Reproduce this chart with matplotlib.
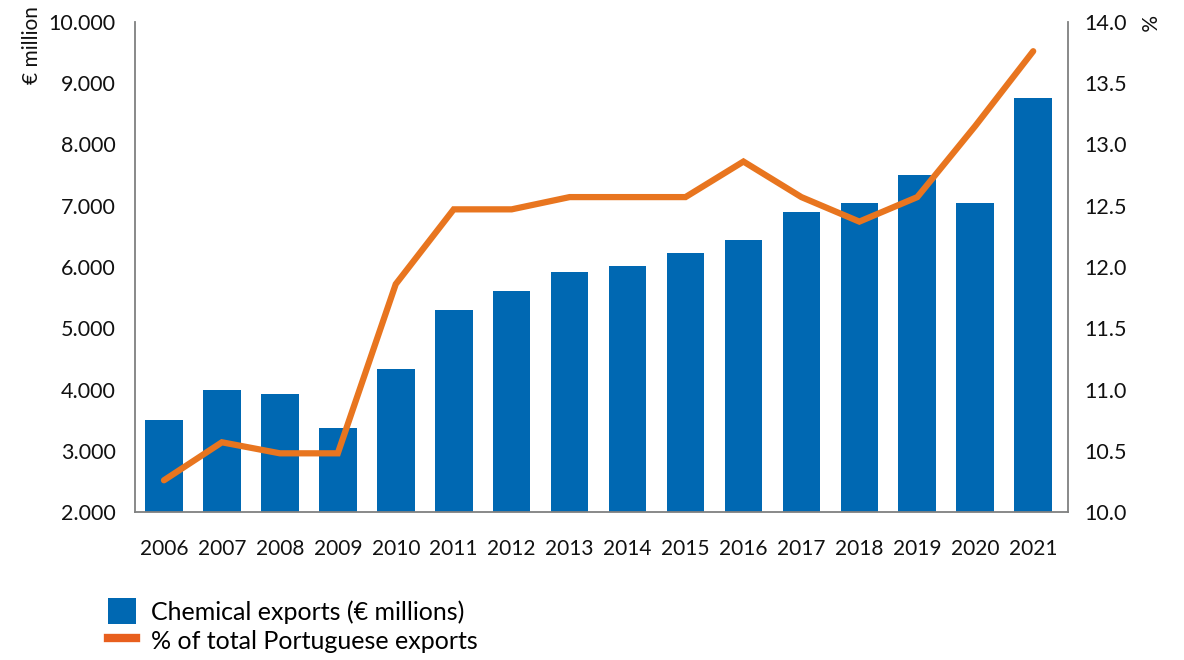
import matplotlib.pyplot as plt
from matplotlib.patches import Patch
from matplotlib.lines import Line2D
from matplotlib.ticker import FuncFormatter

plt.rcParams['font.family'] = ['Lato', 'DejaVu Sans']

years = ['2006', '2007', '2008', '2009', '2010', '2011', '2012', '2013',
         '2014', '2015', '2016', '2017', '2018', '2019', '2020', '2021']
exports = [3500, 3990, 3920, 3380, 4330, 5290, 5610, 5910,
           6010, 6220, 6440, 6900, 7050, 7500, 7040, 8750]
share = [10.26, 10.57, 10.48, 10.48, 11.86, 12.47, 12.47, 12.57,
         12.57, 12.57, 12.86, 12.57, 12.37, 12.57, 13.15, 13.76]

blue = '#0068B2'
orange = '#E8751F'
grey = '#7f8080'
txt = '#111111'

fig = plt.figure(figsize=(11.84, 6.6), dpi=100)
ax = fig.add_axes([0.114, 0.224, 0.788, 0.743])
x = list(range(len(years)))
ax.bar(x, exports, width=0.65, color=blue, zorder=2)
ax.set_ylim(2000, 10000)
ax.set_xlim(-0.5, 15.6)
ax.set_xticks(x)
ax.set_xticklabels(years)
ax.set_yticks(range(2000, 10001, 1000))
ax.yaxis.set_major_formatter(FuncFormatter(lambda v, p: f'{int(v):,}'.replace(',', '.')))
ax.tick_params(axis='both', length=0, colors=txt)
ax.tick_params(axis='x', labelsize=15, pad=19)
ax.tick_params(axis='y', labelsize=15.5, pad=14)
for s in ['left', 'bottom']:
    ax.spines[s].set_color(grey)
    ax.spines[s].set_linewidth(1.3)
ax.spines['top'].set_visible(False)
ax.spines['right'].set_visible(False)

ax2 = ax.twinx()
ax2.plot(x, share, color=orange, linewidth=4.5, solid_capstyle='round',
         solid_joinstyle='miter', zorder=3)
ax2.set_ylim(10.0, 14.0)
ax2.set_yticks([10.0, 10.5, 11.0, 11.5, 12.0, 12.5, 13.0, 13.5, 14.0])
ax2.yaxis.set_major_formatter(FuncFormatter(lambda v, p: f'{v:.1f}'))
ax2.tick_params(axis='y', length=0, labelsize=15.5, colors=txt, pad=12)
ax2.spines['right'].set_color(grey)
ax2.spines['right'].set_linewidth(1.3)
for s in ['top', 'left', 'bottom']:
    ax2.spines[s].set_visible(False)

fig.text(0.027, 0.99, '€ million', rotation=90, ha='center', va='top',
         fontsize=15, color=txt)
fig.text(0.968, 0.978, '%', rotation=-90, ha='center', va='top',
         fontsize=15, color=txt)

handles = [Patch(facecolor=blue, edgecolor='none'),
           Line2D([0], [0], color='#E85F1E', linewidth=6)]
fig.legend(handles, ['Chemical exports (€ millions)', '% of total Portuguese exports'],
           loc='upper left', bbox_to_anchor=(0.091, 0.094), frameon=False,
           fontsize=18, handlelength=1.15, handleheight=1.25, labelspacing=0.12,
           handletextpad=0.6, borderaxespad=0, borderpad=0)

fig.savefig('out.png', dpi=100)
